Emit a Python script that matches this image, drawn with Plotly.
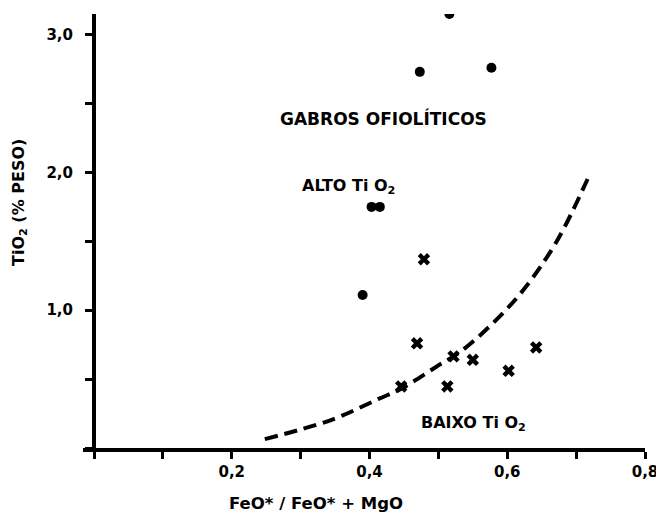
import plotly.graph_objects as go

# Data
alto_x = [0.516, 0.473, 0.577, 0.403, 0.415, 0.390]
alto_y = [3.15, 2.73, 2.76, 1.75, 1.75, 1.11]

baixo_x = [0.479, 0.469, 0.522, 0.550, 0.446, 0.513, 0.602, 0.642]
baixo_y = [1.37, 0.76, 0.665, 0.64, 0.447, 0.447, 0.56, 0.73]

curve_x = [0.248, 0.345, 0.414, 0.446, 0.497, 0.535, 0.588, 0.627, 0.673, 0.721]
curve_y = [0.064, 0.205, 0.358, 0.43, 0.59, 0.71, 0.95, 1.17, 1.51, 2.0]

x_tickvals = [0.2, 0.4, 0.6, 0.8]
x_ticktext = ["0,2", "0,4", "0,6", "0,8"]
x_minor_step = 0.1
y_tickvals = [1.0, 2.0, 3.0]
y_ticktext = ["1,0", "2,0", "3,0"]
y_minor_step = 0.5

x_min, x_max = -0.016, 0.8
y_min, y_max = 0.0, 3.15

FONT = "DejaVu Sans"

fig = go.Figure()
fig.add_trace(go.Scatter(
    x=curve_x, y=curve_y, mode="lines",
    line=dict(color="black", width=4, dash="13px,7px", shape="spline", smoothing=1.0),
    showlegend=False, hoverinfo="skip"))
fig.add_trace(go.Scatter(
    x=alto_x, y=alto_y, mode="markers",
    marker=dict(symbol="circle", size=10, color="black"),
    showlegend=False))
fig.add_trace(go.Scatter(
    x=baixo_x, y=baixo_y, mode="markers",
    marker=dict(symbol="x", size=11, color="black"),
    showlegend=False))

txt = dict(family=FONT, size=16, color="black", weight="bold")
fig.add_annotation(x=0.421, y=2.394, text="GABROS OFIOLÍTICOS", showarrow=False,
                   font=dict(family=FONT, size=17, color="black", weight="bold"))
fig.add_annotation(x=0.370, y=1.90, text="ALTO Ti O<sub>2</sub>", showarrow=False, font=txt)
fig.add_annotation(x=0.551, y=0.18, text="BAIXO Ti O<sub>2</sub>", showarrow=False, font=txt)
fig.add_annotation(x=x_min, xref="x", xshift=-64, y=(447.5 - 203) / 137.5, yref="y",
                   text="TiO<sub>2</sub> (% PESO)", textangle=-90, showarrow=False,
                   font=dict(family=FONT, size=16, color="black", weight="bold"))
fig.add_annotation(x=(316.7 - 94) / 692.5, y=0, yref="paper", yshift=-67,
                   text="FeO* / FeO* + MgO", showarrow=False,
                   font=dict(family=FONT, size=16.5, color="black", weight="bold"))

tickfont = dict(family=FONT, size=15, color="black", weight="bold")
tick_style = dict(ticks="outside", ticklen=7, tickwidth=3, tickcolor="black")
# page body has an 8px margin, so the figure is sized/placed to compensate
fig.update_layout(
    width=656, height=505,
    margin=dict(l=75, r=16, t=6, b=65),
    paper_bgcolor="white", plot_bgcolor="white",
    xaxis=dict(range=[x_min, x_max], showgrid=False, zeroline=False,
               showline=True, linecolor="black", linewidth=4,
               tickmode="array", tickvals=x_tickvals, ticktext=x_ticktext,
               tickfont=tickfont, ticklabelstandoff=0,
               minor=dict(tickmode="linear", tick0=0, dtick=x_minor_step,
                          showgrid=False, **tick_style),
               **tick_style),
    yaxis=dict(range=[y_min, y_max], showgrid=False, zeroline=False,
               anchor="free", position=(0 - x_min) / (x_max - x_min),
               showline=True, linecolor="black", linewidth=4,
               tickmode="array", tickvals=y_tickvals, ticktext=y_ticktext,
               tickfont=tickfont, ticklabelstandoff=9,
               minor=dict(tickmode="linear", tick0=0, dtick=y_minor_step,
                          showgrid=False, **tick_style),
               **tick_style),
)

fig.write_html("out.html")
